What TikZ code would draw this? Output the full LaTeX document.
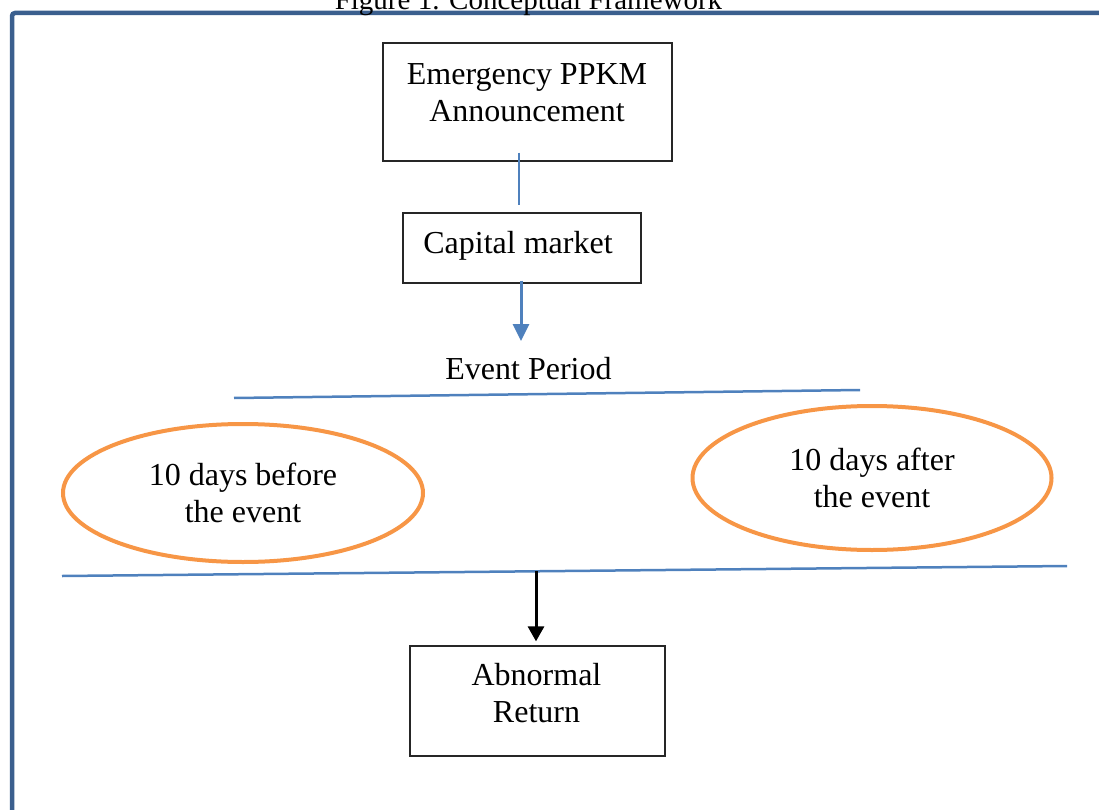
\documentclass[tikz,border=0pt]{standalone}
\usepackage{fontspec}
\setmainfont{Liberation Serif}
\usetikzlibrary{arrows.meta,shapes.geometric}
\definecolor{framecol}{HTML}{3B5F8E}
\definecolor{linecol}{HTML}{4F81BD}
\definecolor{ovalcol}{HTML}{F79646}

\begin{document}
\begin{tikzpicture}[x=1pt,y=-1pt,
  box/.style={draw=black!85,line width=1.3pt,inner sep=0pt},
  txt/.style={font=\fontsize{32}{37}\selectfont,align=center,inner sep=0pt},
  oval/.style={ellipse,draw=ovalcol,line width=4pt,inner sep=0pt,font=\fontsize{32}{37}\selectfont,align=center},
  link/.style={draw=linecol,line width=2pt},
  sep/.style={draw=linecol,line width=2.5pt}]
\useasboundingbox (0,0) rectangle (1099,810);
\draw [framecol,line width=4.5pt,rounded corners=3pt] (1110,13) -- (12,13) -- (12,830);
\node [anchor=base,inner sep=0pt,font=\fontsize{29}{33}\selectfont] (title) at (528.5,10) {Figure 1. Conceptual Framework};
\node [box,minimum width=289,minimum height=118] (ppkm) at (527.5,102) {};
\node [txt] (ppkmtxt) at (527,93) {Emergency PPKM\\Announcement};
\node [box,minimum width=238,minimum height=70] (cap) at (522,248) {};
\node [txt] (captxt) at (518,246) {Capital market};
\node [txt,anchor=base] (period) at (528.5,379.5) {Event Period};
\node [oval,minimum width=360,minimum height=138] (before) at (243,493) {10 days before\\the event};
\node [oval,minimum width=359,minimum height=144] (after) at (872,478) {10 days after\\the event};
\node [box,minimum width=255,minimum height=110] (ar) at (537.5,701) {};
\node [txt] (artxt) at (536.5,693) {Abnormal\\Return};
\coordinate (split) at (536,571);
\draw [link] ([xshift=-8.5pt,yshift=9pt]ppkm.south) -- ([xshift=-3pt,yshift=7pt]cap.north);
\draw [link,line width=3pt,-{Triangle[length=17pt,width=16pt]}] ([xshift=-1pt,yshift=3pt]cap.south) -- ([xshift=-7.5pt,yshift=16pt]period.north);
\draw [sep] (234,398) -- (860,390);
\draw [sep] (62,576) -- (1067,566);
\draw [black,line width=3pt,-{Triangle[length=15pt,width=16pt]}] (split) -- ([xshift=-1.5pt,yshift=4pt]ar.north);
\end{tikzpicture}
\end{document}
